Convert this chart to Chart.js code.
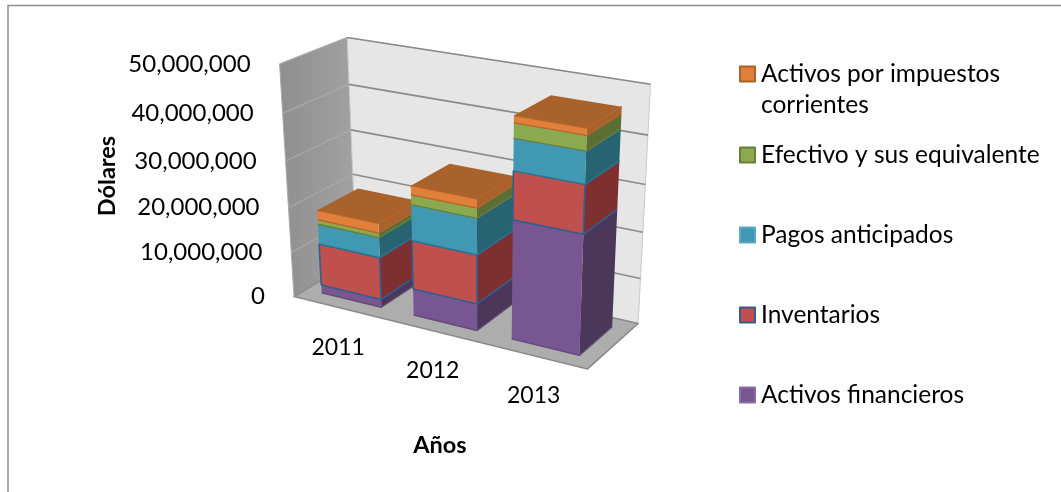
<!DOCTYPE html>
<html><head><meta charset="utf-8">
<style>html,body{margin:0;padding:0;background:#fff}#wrap{width:1061px;height:492px;position:relative}canvas{display:block}</style>
<script src="https://cdn.jsdelivr.net/npm/chart.js@4/dist/chart.umd.min.js"></script>
</head><body><div id="wrap"><canvas id="c" width="1061" height="492"></canvas></div>
<script>
const years = ['2011','2012','2013'];
const activosFinancieros = [1800000, 5900000, 25400000];
const inventarios = [9400000, 10600000, 9900000];
const pagosAnticipados = [4400000, 7700000, 6400000];
const efectivo = [1000000, 2100000, 3000000];
const impuestos = [2100000, 1900000, 1400000];
const seriesNames = ['Activos financieros','Inventarios','Pagos anticipados','Efectivo y sus equivalente','Activos por impuestos corrientes'];
const yMax = 50000000, yStep = 10000000;
const yTitle = 'Dólares', xTitle = 'Años';

const FONT = 'Lato, "Open Sans", sans-serif';
const faces = [
 {front:'#775691',side:'#4a3759',top:'#775691',edge:'#604a78',swatch:'#8a6ca8'},
 {front:'#bf504d',side:'#7e3030',top:'#bf504d',edge:'#2f5f8f',swatch:'#385d8a'},
 {front:'#4198b3',side:'#286372',top:'#4198b3',edge:'#2a7592',swatch:'#5aa8c2'},
 {front:'#8ba94f',side:'#5b6e35',top:'#8ba94f',edge:'#64803a',swatch:'#64803a'},
 {front:'#e0803a',side:'#a9622b',top:'#a9622b',edge:'#b4652a',swatch:'#a9622b'}
];
const legendRows = [[74,105],[155],[235],[315],[395]];
const legendWrap = {'Activos por impuestos corrientes':['Activos por impuestos','corrientes']};

// projective camera fitted to the corners of the plot box: [u,v,d] -> [x,y]
const cornerFit = [
 [0,0,0,293,295],[1,0,0,588,369],[0,1,0,280,62],[0,0,1,357,261],
 [1,0,1,638,323],[0,1,1,347,39],[1,1,1,650,81],[1,1,0,597,121]
];
function solve(A,b){
 const n=b.length,M=A.map((r,i)=>r.concat(b[i]));
 for(let i=0;i<n;i++){
  let p=i;for(let k=i+1;k<n;k++)if(Math.abs(M[k][i])>Math.abs(M[p][i]))p=k;
  [M[i],M[p]]=[M[p],M[i]];
  for(let k=0;k<n;k++){if(k===i)continue;const f=M[k][i]/M[i][i];for(let j=i;j<=n;j++)M[k][j]-=f*M[i][j];}
 }
 return M.map((r,i)=>r[n]/r[i]);
}
const cam=(function(){
 const rows=[],rhs=[];
 cornerFit.forEach(([u,v,d,x,y])=>{
  rows.push([1,u,v,d,0,0,0,0,-x*u,-x*v,-x*d]);rhs.push(x);
  rows.push([0,0,0,0,1,u,v,d,-y*u,-y*v,-y*d]);rhs.push(y);
 });
 const n=11,A=[],b=[];
 for(let i=0;i<n;i++){A.push([]);let s=0;for(let j=0;j<n;j++){let t=0;rows.forEach(r=>t+=r[i]*r[j]);A[i].push(t+(i===j?1e-9:0));}
  rows.forEach((r,k)=>s+=r[i]*rhs[k]);b.push(s);}
 return solve(A,b);
})();
function P(u,v,d){
 const w=1+cam[8]*u+cam[9]*v+cam[10]*d;
 return [(cam[0]+cam[1]*u+cam[2]*v+cam[3]*d)/w,(cam[4]+cam[5]*u+cam[6]*v+cam[7]*d)/w];
}
function poly(ctx,pts,fill,stroke,lw){
 ctx.beginPath();pts.forEach((p,i)=>i?ctx.lineTo(p[0],p[1]):ctx.moveTo(p[0],p[1]));ctx.closePath();
 if(fill){ctx.fillStyle=fill;ctx.fill();}
 if(stroke){ctx.strokeStyle=stroke;ctx.lineWidth=lw||1;ctx.lineJoin='round';ctx.stroke();}
}
const BAR_D0=0.19,BAR_D1=0.83;

const box3d={
 id:'box3d',
 beforeDatasetsDraw(chart){
  const ctx=chart.ctx,a=chart.chartArea,ys=chart.scales.y,xs=chart.scales.x;
  const vOf=px=>(a.bottom-px)/(a.bottom-a.top), uOf=px=>(px-a.left)/(a.right-a.left);
  ctx.save();
  // frame
  ctx.strokeStyle='#8e8e8e';ctx.lineWidth=1.5;ctx.beginPath();ctx.moveTo(8,492);ctx.lineTo(8,5.5);ctx.lineTo(1061,5.5);ctx.stroke();
  // walls and floor
  const lw=ctx.createLinearGradient(280,0,357,0);lw.addColorStop(0,'#8f8f8f');lw.addColorStop(1,'#a2a2a2');
  poly(ctx,[P(0,0,0),P(0,1,0),P(0,1,1),P(0,0,1)],lw,'#a8a8a8',1);
  poly(ctx,[P(0,0,1),P(0,1,1),P(1,1,1),P(1,0,1)],'#e6e6e6','#c8c8c8',1);
  poly(ctx,[P(0,0,0),P(0,0,1),P(1,0,1),P(1,0,0)],'#adadad','#8a8a8a',1.5);
  // gridlines from the y scale
  ys.ticks.forEach(t=>{
   const v=vOf(ys.getPixelForValue(t.value));
   if(v<=0)return;
   const f=P(0,v,0),b=P(0,v,1),r=P(1,v,1);
   ctx.strokeStyle='#8a8a8a';ctx.lineWidth=1.6;
   ctx.beginPath();ctx.moveTo(b[0],b[1]);ctx.lineTo(r[0],r[1]);ctx.stroke();
   ctx.strokeStyle='#a9a9a9';ctx.lineWidth=1.2;
   ctx.beginPath();ctx.moveTo(f[0],f[1]);ctx.lineTo(b[0],b[1]);ctx.stroke();
  });
  // bars from the bar elements, left to right, bottom to top
  const metas=chart.data.datasets.map((_,i)=>chart.getDatasetMeta(i));
  years.forEach((_,ci)=>{
   metas.forEach((m,si)=>{
    const el=m.data[ci],f=faces[si];
    const u0=uOf(el.x-el.width/2),u1=uOf(el.x+el.width/2);
    const v0=vOf(el.base),v1=vOf(el.y);
    const d0=BAR_D0,d1=BAR_D1;
    poly(ctx,[P(u1,v0,d0),P(u1,v1,d0),P(u1,v1,d1),P(u1,v0,d1)],f.side,null);
    poly(ctx,[P(u0,v0,d0),P(u0,v1,d0),P(u1,v1,d0),P(u1,v0,d0)],f.front,null);
    if(si===metas.length-1){
     poly(ctx,[P(u0,v1,d0),P(u0,v1,d1),P(u1,v1,d1),P(u1,v1,d0)],f.top,null);
     ctx.strokeStyle=f.edge;ctx.lineWidth=1.4;
     const p=P(u0,v1,d0),q=P(u1,v1,d0),s=P(u1,v1,d1);
     ctx.beginPath();ctx.moveTo(p[0],p[1]);ctx.lineTo(q[0],q[1]);ctx.lineTo(s[0],s[1]);ctx.stroke();
    }
    ctx.strokeStyle=f.edge;ctx.lineWidth=si===1?1.6:1.3;
    const a1=P(u0,v0,d0),a2=P(u1,v0,d0),a3=P(u1,v0,d1);
    ctx.beginPath();ctx.moveTo(a1[0],a1[1]);ctx.lineTo(a2[0],a2[1]);ctx.lineTo(a3[0],a3[1]);ctx.stroke();
    const b1=P(u0,v1,d0),b2=P(u1,v1,d0),b3=P(u1,v1,d1);
    if(si===1){
     ctx.beginPath();ctx.moveTo(a1[0],a1[1]);ctx.lineTo(b1[0],b1[1]);ctx.moveTo(b1[0],b1[1]);ctx.lineTo(b2[0],b2[1]);ctx.lineTo(b3[0],b3[1]);
     ctx.moveTo(a2[0],a2[1]);ctx.lineTo(b2[0],b2[1]);ctx.stroke();
    }
   });
  });
  // value axis labels
  ctx.fillStyle='#000';ctx.font='24px '+FONT;ctx.textBaseline='middle';ctx.textAlign='right';
  ys.ticks.forEach(t=>{
   const v=vOf(ys.getPixelForValue(t.value)),p=P(0,v,0);
   ctx.fillText(t.label,p[0]-29,p[1]);
  });
  // category labels
  ctx.textAlign='center';ctx.font='23px '+FONT;
  xs.getTicks().forEach((t,i)=>{
   const p=P(uOf(xs.getPixelForTick(i)),0,0);
   ctx.fillText(xs.getLabelForValue(t.value),p[0]-1,p[1]+40);
  });
  // axis titles
  ctx.font='bold 23.5px '+FONT;
  ctx.fillText(xTitle,440,445);
  ctx.save();ctx.translate(107,176);ctx.rotate(-Math.PI/2);ctx.fillText(yTitle,0,0);ctx.restore();
  // legend, top to bottom is last series to first
  ctx.textAlign='left';ctx.font='24.5px '+FONT;
  chart.data.datasets.slice().reverse().forEach((ds,i)=>{
   const f=faces[faces.length-1-i],rows=legendRows[i],lines=legendWrap[ds.label]||[ds.label];
   ctx.fillStyle=f.front;ctx.strokeStyle=f.swatch;ctx.lineWidth=2;
   ctx.fillRect(740,rows[0]-7.5,15,15);ctx.strokeRect(740,rows[0]-7.5,15,15);
   ctx.fillStyle='#000';
   lines.forEach((s,k)=>ctx.fillText(s,761,rows[k]));
  });
  ctx.restore();
  return false;
 }
};

const seriesValues=[activosFinancieros,inventarios,pagosAnticipados,efectivo,impuestos];
new Chart(document.getElementById('c'),{
 type:'bar',
 data:{labels:years,datasets:seriesNames.map((n,i)=>({label:n,data:seriesValues[i],backgroundColor:faces[i].front,borderColor:faces[i].edge}))},
 plugins:[box3d],
 options:{
  responsive:false,animation:false,
  layout:{padding:{left:293,right:473,top:62,bottom:197}},
  datasets:{bar:{categoryPercentage:1,barPercentage:0.655}},
  plugins:{legend:{display:false},tooltip:{enabled:false},title:{display:false}},
  scales:{
   x:{stacked:true,display:false},
   y:{stacked:true,display:false,min:0,max:yMax,ticks:{stepSize:yStep,callback:v=>Number(v).toLocaleString('en-US')}}
  }
 }
});
</script></body></html>
